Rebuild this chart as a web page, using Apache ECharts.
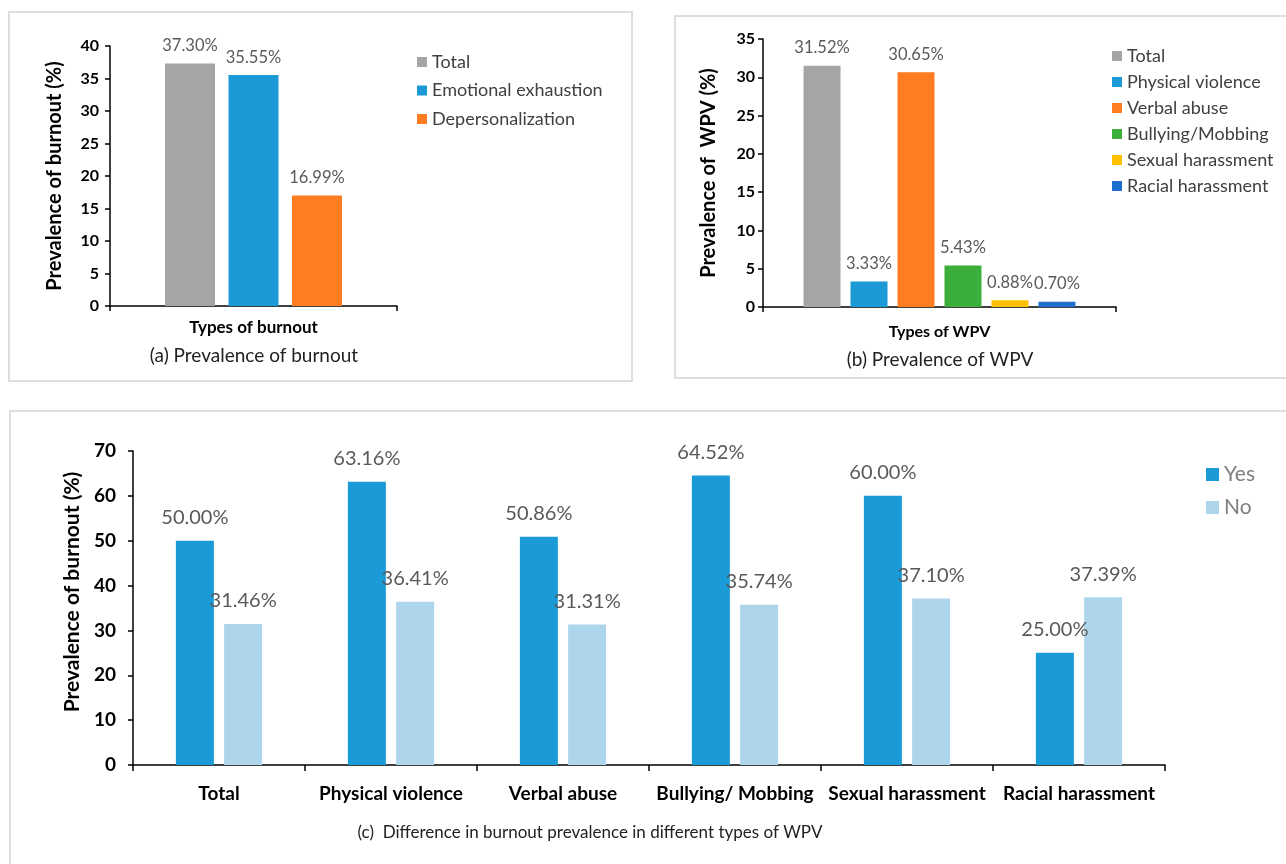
<!DOCTYPE html>
<html>
<head>
<meta charset="utf-8">
<script src="https://cdn.jsdelivr.net/npm/echarts@6/dist/echarts.min.js"></script>
<style>
  body { margin: 0; background: #fff; width: 1286px; height: 864px; overflow: hidden; position: relative; }
  .panel { position: absolute; border: 2px solid #dedede; box-sizing: border-box; background: #fff; }
  #chartA { left: 8px; top: 11px; width: 625px; height: 371px; }
  #chartB { left: 674px; top: 15px; width: 620px; height: 364px; }
  #chartC { left: 9px; top: 410px; width: 1290px; height: 470px; }
</style>
</head>
<body>
<div id="chartA" class="panel"></div>
<div id="chartB" class="panel"></div>
<div id="chartC" class="panel"></div>
<script>
/* 数据 */
var burnoutTypes = ['Total', 'Emotional exhaustion', 'Depersonalization'];
var burnoutValues = [37.30, 35.55, 16.99];
var burnoutColors = ['#a5a5a5', '#1b9ad6', '#fe7c22'];

var wpvTypes = ['Total', 'Physical violence', 'Verbal abuse', 'Bullying/Mobbing', 'Sexual harassment', 'Racial harassment'];
var wpvValues = [31.52, 3.33, 30.65, 5.43, 0.88, 0.70];
var wpvColors = ['#a5a5a5', '#1b9ad6', '#fe7c22', '#3cae3c', '#ffc000', '#1f6fcf'];

var groupCategories = ['Total', 'Physical violence', 'Verbal abuse', 'Bullying/ Mobbing', 'Sexual harassment', 'Racial harassment'];
var yesValues = [50.00, 63.16, 50.86, 64.52, 60.00, 25.00];
var noValues = [31.46, 36.41, 31.31, 35.74, 37.10, 37.39];

var FONT = 'Lato, "Open Sans", sans-serif';

function pct(p) { return p.value.toFixed(2) + '%'; }

/* 通用y轴 */
function valueAxis(max, interval, name, nameGap, size, nameSize, margin, namePad) {
    return {
        type: 'value', min: 0, max: max, interval: interval,
        name: name, nameLocation: 'middle', nameGap: nameGap,
        nameTextStyle: {fontFamily: FONT, fontSize: nameSize, fontWeight: 'bold', color: '#000',
            padding: namePad || 0},
        axisLine: {show: true, lineStyle: {color: '#000', width: 1.5}},
        axisTick: {show: true, length: 5, lineStyle: {color: '#000', width: 1.5}},
        axisLabel: {fontFamily: FONT, fontSize: size, fontWeight: 'bold', color: '#000', margin: margin},
        splitLine: {show: false}
    };
}

/* 单分类条形图 (a)(b) */
function singleCatSeries(names, values, colors, width, labelSize) {
    return names.map(function (n, i) {
        return {
            name: n, type: 'bar', data: [values[i]], barWidth: width, barGap: '27%',
            itemStyle: {color: colors[i]},
            label: {show: true, position: 'top', distance: 9, formatter: pct,
                fontFamily: FONT, fontSize: labelSize, color: '#595959'}
        };
    });
}

function catAxis(name, nameGap, size) {
    return {
        type: 'category', data: [''],
        name: name, nameLocation: 'middle', nameGap: nameGap,
        nameTextStyle: {fontFamily: FONT, fontSize: size, fontWeight: 'bold', color: '#000'},
        axisLine: {lineStyle: {color: '#000', width: 1.5}},
        axisTick: {show: true, length: 5, lineStyle: {color: '#000', width: 1.5}},
        axisLabel: {show: false}
    };
}

function caption(text, x, y, size) {
    return {type: 'text', x: x, y: y,
        style: {text: text, align: 'center', verticalAlign: 'middle',
            fontFamily: FONT, fontSize: size, fill: '#222'}};
}

/* 图(a) */
function burnoutChart(el) {
    var _thisChart = echarts.init(document.getElementById(el));
    _thisChart.setOption({
        animation: false,
        grid: {left: 100, top: 33, width: 287, height: 260},
        legend: {
            orient: 'vertical', left: 402, top: 35, itemWidth: 10, itemHeight: 10, itemGap: 10.5,
            icon: 'rect', data: burnoutTypes,
            textStyle: {fontFamily: FONT, fontSize: 18, color: '#404040'}
        },
        xAxis: catAxis('Types of burnout', 13, 17),
        yAxis: valueAxis(40, 5, 'Prevalence of burnout (%)', 45, 16, 20, 11),
        series: singleCatSeries(burnoutTypes, burnoutValues, burnoutColors, 50, 16.5),
        graphic: [caption('(a) Prevalence of burnout', 244, 343, 19)]
    });
    return _thisChart;
}

/* 图(b) */
function wpvChart(el) {
    var _thisChart = echarts.init(document.getElementById(el));
    _thisChart.setOption({
        animation: false,
        grid: {left: 87, top: 22, width: 353, height: 268},
        legend: {
            orient: 'vertical', left: 431, top: 25, itemWidth: 10, itemHeight: 10, itemGap: 8,
            icon: 'rect', data: wpvTypes,
            textStyle: {fontFamily: FONT, fontSize: 18, color: '#404040'}
        },
        xAxis: catAxis('Types of WPV', 17, 16),
        yAxis: valueAxis(35, 5, 'Prevalence of  WPV (%)', 44, 16, 20, 8),
        series: singleCatSeries(wpvTypes, wpvValues, wpvColors, 37, 16.5),
        graphic: [caption('(b) Prevalence of WPV', 264, 343, 19)]
    });
    return _thisChart;
}

/* 图(c) */
function diffChart(el) {
    var _thisChart = echarts.init(document.getElementById(el));
    var labelCfg = {show: true, position: 'top', distance: 13, formatter: pct,
        fontFamily: FONT, fontSize: 20, color: '#595959'};
    _thisChart.setOption({
        animation: false,
        grid: {left: 122, top: 39, width: 1032, height: 314},
        legend: {
            orient: 'vertical', left: 1190, top: 47, itemWidth: 13, itemHeight: 13, itemGap: 12,
            icon: 'rect', data: ['Yes', 'No'],
            textStyle: {fontFamily: FONT, fontSize: 21, color: '#7f7f7f'}
        },
        xAxis: {
            type: 'category', data: groupCategories,
            axisLine: {lineStyle: {color: '#000', width: 1.5}},
            axisTick: {show: true, interval: 0, length: 6, lineStyle: {color: '#000', width: 1.5}},
            axisLabel: {interval: 0, fontFamily: FONT, fontSize: 19, fontWeight: 'bold', color: '#000', margin: 19}
        },
        yAxis: valueAxis(70, 10, 'Prevalence of burnout (%)', 48, 19, 21, 17, [0, 0, 0, 32]),
        series: [
            {name: 'Yes', type: 'bar', data: yesValues, barWidth: 38, barGap: '27%',
                itemStyle: {color: '#1a9ad6'}, label: labelCfg},
            {name: 'No', type: 'bar', data: noValues, barWidth: 38, barGap: '27%',
                itemStyle: {color: '#add6ec'}, label: labelCfg}
        ],
        graphic: [caption('(c)  Difference in burnout prevalence in different types of WPV', 579, 421, 17)]
    });
    return _thisChart;
}

var chartA = burnoutChart('chartA');
var chartB = wpvChart('chartB');
var chartC = diffChart('chartC');
</script>
</body>
</html>
